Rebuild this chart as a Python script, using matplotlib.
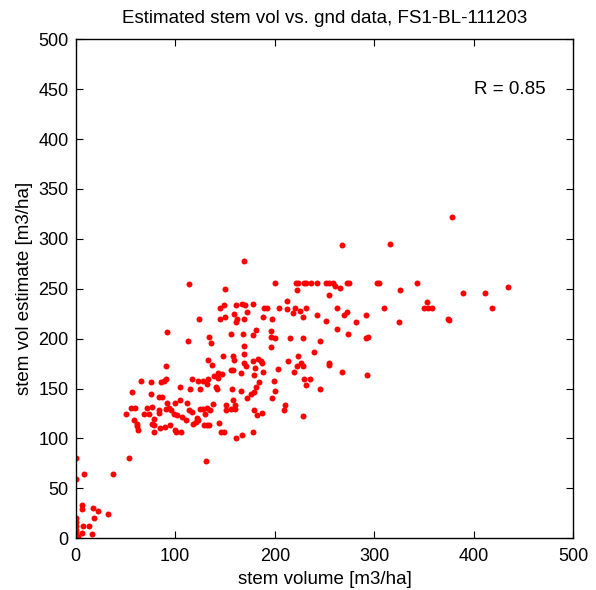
import matplotlib
matplotlib.use("Agg")
import matplotlib.pyplot as plt
import numpy as np

plt.rcParams['font.family'] = ['Liberation Sans', 'DejaVu Sans']

stem_vol = [
    0, 0, 8, 37, 54, 131, 6, 6, 17, 22, 32, 18, 0, 0, 0, 0, 0, 0, 7, 13, 6, 16, 0, 2, 1,
    51, 57, 56, 60, 59, 62, 62, 63, 76, 69, 72, 74, 77, 79, 77, 79, 79, 84, 84, 84, 87,
    85, 91, 94, 96, 92, 90, 95, 99, 102, 100, 101, 100, 105, 106, 107, 111, 112, 115,
    114, 117, 118, 121, 122, 123, 125, 128, 130, 132, 129, 132, 134, 135, 138, 144, 146,
    149, 151, 151, 156, 158, 160, 160, 161, 167, 166, 172, 179, 182, 178, 125, 176, 179,
    66, 76, 86, 91, 89, 105, 117, 123, 128, 133, 132, 139, 141, 142, 157, 181, 184,
    169, 114, 150, 200, 221, 222, 212, 204, 212, 220, 218, 145, 149, 161, 167, 170, 178,
    172, 189, 192, 188, 197, 159, 162, 161, 169, 145, 150, 124, 92, 113, 134, 136, 156,
    168, 178, 181, 196, 196, 200, 196, 215, 169, 148, 158, 159, 169, 133, 137, 169, 171,
    178, 183, 186, 187, 180, 188, 203, 213, 223, 222, 219, 91, 143, 147, 143, 156, 158,
    166, 179, 199, 200, 197, 210, 209, 187,
    268, 223, 229, 231, 236, 242, 251, 254, 259, 261, 266, 273, 275, 255, 225, 231, 228,
    242, 263, 251, 270, 273, 282, 263, 274, 228, 245, 239, 226, 228, 255, 254, 268, 229,
    235, 231, 245,
    378, 316, 303, 305, 343, 326, 389, 411, 353, 350, 354, 358, 418, 310, 292, 325, 374,
    292, 294, 293, 228, 434, 375,
]
stem_est = [
    80, 59, 64, 64, 80, 77, 33, 29, 30, 27, 24, 20, 20, 16, 12, 8, 5, 1, 12, 12, 5, 4, 3, 1, 0,
    125, 147, 131, 131, 119, 115, 113, 109, 145, 125, 131, 125, 132, 120, 115, 114, 107, 129,
    126, 142, 142, 111, 130, 131, 129, 136, 112, 114, 125, 124, 109, 107, 136, 139, 107, 122,
    119, 136, 150, 129, 127, 115, 117, 121, 119, 130, 130, 125, 131, 114, 114, 114, 129, 135,
    116, 107, 107, 134, 129, 130, 139, 134, 130, 100, 103, 148, 141, 129, 124, 106, 150, 145, 147,
    158, 157, 157, 160, 158, 152, 160, 158, 158, 160, 155, 163, 152, 150, 150, 152, 157,
    278, 255, 250, 256, 256, 249, 238, 231, 230, 231, 226, 231, 234, 234, 235, 234, 235,
    227, 231, 231, 222, 220, 225, 220, 217, 220, 220, 222, 220, 207, 198, 202, 196, 205,
    205, 204, 209, 208, 202, 201, 192, 201, 193, 183, 183, 179, 185, 179, 174, 176, 173,
    178, 180, 178, 176, 171, 167, 170, 178, 183, 173, 167, 173, 166, 165, 161, 169, 169,
    166, 164, 158, 148, 141, 134, 129, 126,
    294, 256, 256, 256, 256, 256, 256, 256, 256, 253, 251, 256, 256, 244, 228, 231, 222,
    224, 231, 218, 224, 227, 217, 210, 205, 201, 198, 187, 176, 173, 176, 174, 167, 160,
    160, 154, 150,
    322, 295, 256, 256, 256, 249, 246, 246, 237, 231, 231, 231, 231, 231, 224, 217, 220,
    201, 202, 164, 123, 252, 219,
]

fig = plt.figure(figsize=(5.96, 5.90), dpi=100)
ax = fig.add_axes([0.127, 0.0876, 0.835, 0.846])

ax.plot(stem_vol, stem_est, 'o', color='red', ms=4.3, mec='none')

ax.set_xlim(0, 500)
ax.set_ylim(0, 500)
ax.set_xticks(np.arange(0, 501, 100))
ax.set_yticks(np.arange(0, 501, 50))
ax.tick_params(direction='in', top=True, right=True, length=5, labelsize=13, pad=5)
ax.tick_params(axis='x', pad=7)
for s in ax.spines.values():
    s.set_linewidth(1.0)

ax.text(400, 450, 'R = 0.85', fontsize=13.5, va='center')
ax.set_title('Estimated stem vol vs. gnd data, FS1-BL-111203', fontsize=13.5, pad=12)
ax.set_xlabel('stem volume [m3/ha]', fontsize=13.5, labelpad=4)
ax.set_ylabel('stem vol estimate [m3/ha]', fontsize=13.5, labelpad=4)

fig.savefig('out.png', dpi=100)
